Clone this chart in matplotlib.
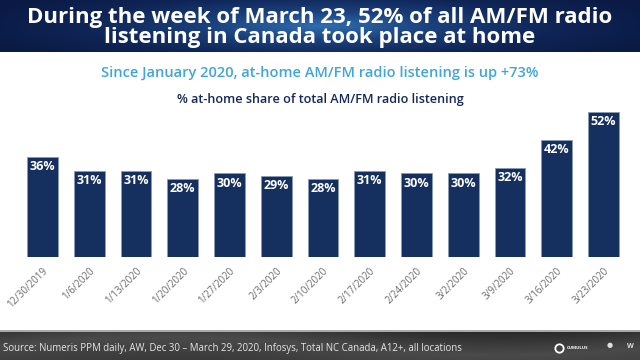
import numpy as np
import matplotlib
matplotlib.use("Agg")
import matplotlib.pyplot as plt
from matplotlib.colors import LinearSegmentedColormap

weeks = ["12/30/2019", "1/6/2020", "1/13/2020", "1/20/2020", "1/27/2020", "2/3/2020",
         "2/10/2020", "2/17/2020", "2/24/2020", "3/2/2020", "3/9/2020", "3/16/2020", "3/23/2020"]
shares = [36, 31, 31, 28, 30, 29, 28, 31, 30, 30, 32, 42, 52]

title = "During the week of March 23, 52% of all AM/FM radio\nlistening in Canada took place at home"
subtitle = "Since January 2020, at-home AM/FM radio listening is up +73%"
chart_title = "% at-home share of total AM/FM radio listening"
source = "Source: Numeris PPM daily, AW, Dec 30 \u2013 March 29, 2020, Infosys, Total NC Canada, A12+, all locations"

plt.rcParams['font.family'] = ['Open Sans', 'DejaVu Sans']

fig = plt.figure(figsize=(6.4, 3.6), dpi=100)
fig.patch.set_facecolor("white")

# Header band with radial-ish gradient
hdr = fig.add_axes([0, 1 - 52/360, 1, 52/360])
hdr.set_axis_off()
xx, yy = np.meshgrid(np.linspace(-1, 1, 400), np.linspace(-1, 1, 60))
r = np.sqrt((xx / 1.0) ** 2 + (yy / 1.6) ** 2)
cmap_h = LinearSegmentedColormap.from_list("h", ["#2f6db0", "#1a3f7a", "#0f2556", "#0a1a44"])
hdr.imshow(r, cmap=cmap_h, aspect="auto", extent=[0, 1, 0, 1], vmin=0, vmax=1.1)
hdr.set_xlim(0, 1); hdr.set_ylim(0, 1)
hdr.text(0.5, 0.47, title, color="white", fontsize=16, fontweight="bold",
         ha="center", va="center", linespacing=0.98)

# Footer band
ftr = fig.add_axes([0, 0, 1, 28/360])
ftr.set_axis_off()
fx, fy = np.meshgrid(np.linspace(0, 1, 400), np.linspace(0, 1, 30))
cmap_f = LinearSegmentedColormap.from_list("f", ["#2a2a2a", "#4a4a4a", "#3a3a3a"])
ftr.imshow(fy * 0.6 + 0.2 * np.sin(fx * 6), cmap=cmap_f, aspect="auto", extent=[0, 1, 0, 1])
ftr.set_xlim(0, 1); ftr.set_ylim(0, 1)
ftr.text(0.004, 0.42, source, color="#e6e6e6", fontsize=6.9, ha="left", va="center")
ftr.plot([0.873], [0.42], marker="o", markersize=6, markerfacecolor="none",
         markeredgecolor="white", markeredgewidth=1.3)
ftr.text(0.903, 0.42, "CUMULUS", color="white", fontsize=3.2, fontweight="bold", ha="center", va="center")
ftr.text(0.952, 0.5, "\u25CF", color="#dddddd", fontsize=5, ha="center", va="center")
ftr.text(0.985, 0.5, "W", color="#dddddd", fontsize=5, fontweight="bold", ha="center", va="center")
fig.add_artist(plt.Line2D([0, 1], [29/360, 29/360], color="#9a9a9a", lw=1.2))

fig.text(0.5, 1 - 73/360, subtitle, color="#41a5d8", fontsize=10.5, fontweight="semibold",
         ha="center", va="center")
fig.text(0.5, 1 - 99/360, chart_title, color="#14285a", fontsize=9.1, fontweight="semibold",
         ha="center", va="center")

# Bars
ax = fig.add_axes([19.1/640, 1 - 257/360, (626.9 - 19.1)/640, 167.4/360])
x = np.arange(len(weeks))
bars = ax.bar(x, shares, width=0.66, color="#15305f", edgecolor="#8a9bb5", linewidth=0.6)
ax.set_xlim(-0.5, len(weeks) - 0.5)
ax.set_ylim(0, 60)
ax.patch.set_alpha(0)
for s in ax.spines.values():
    s.set_visible(False)
ax.set_yticks([])
ax.set_xticks(x)
ax.set_xticklabels(weeks, rotation=45, ha="right", rotation_mode="anchor",
                   fontsize=7, color="#6a6a6a")
ax.tick_params(axis="x", length=0, pad=6)
for xi, v in zip(x, shares):
    ax.text(xi, v - 1.2, f"{v}%", color="white", fontsize=9, fontweight="bold",
            ha="center", va="top")

fig.savefig("out.png", dpi=100)
